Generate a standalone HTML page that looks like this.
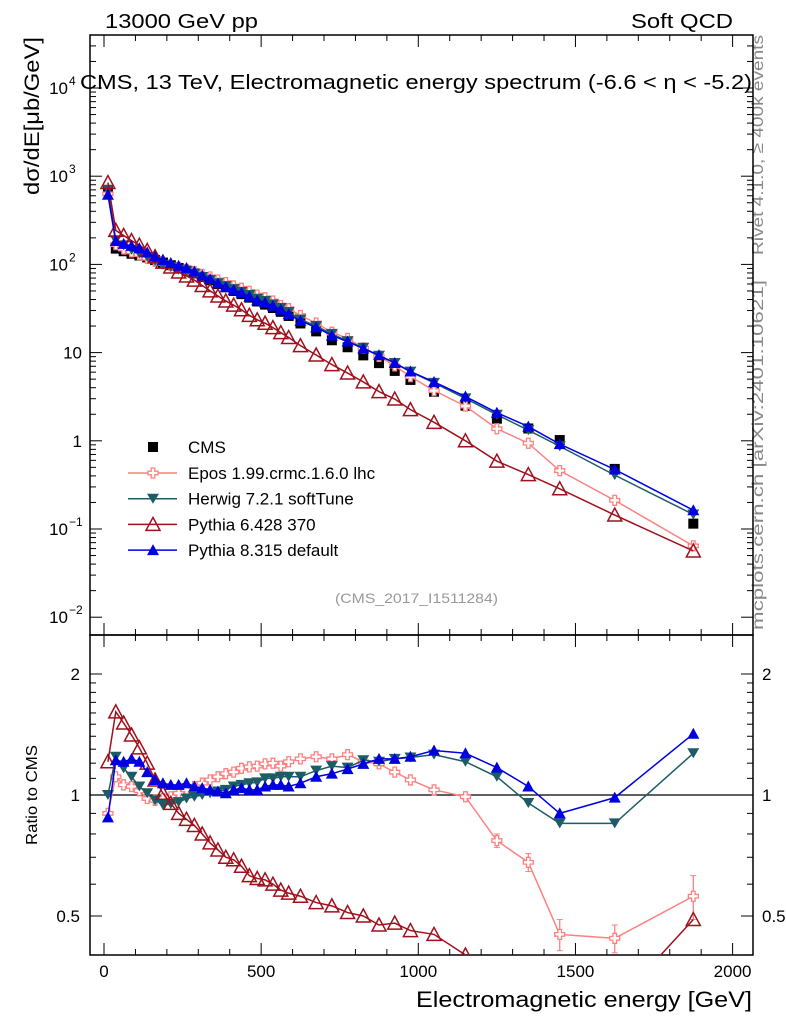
<!DOCTYPE html>
<html><head><meta charset="utf-8"><style>
html,body{margin:0;padding:0;background:#fff;}
svg{display:block;font-family:"Liberation Sans",sans-serif;}
</style></head><body>
<svg id="c" width="786" height="1024" viewBox="0 0 786 1024" xmlns="http://www.w3.org/2000/svg">
<text x="105" y="28" font-size="20" textLength="153" lengthAdjust="spacingAndGlyphs">13000 GeV pp</text>
<text x="631" y="28" font-size="20" textLength="102" lengthAdjust="spacingAndGlyphs">Soft QCD</text>
<text x="80" y="89" font-size="20" textLength="672" lengthAdjust="spacingAndGlyphs">CMS, 13 TeV, Electromagnetic energy spectrum (-6.6 &lt; η &lt; -5.2)</text>
<text transform="translate(39,195) rotate(-90)" font-size="21" textLength="158" lengthAdjust="spacingAndGlyphs">dσ/dE[μb/GeV]</text>
<text transform="translate(763,255) rotate(-90)" font-size="16" fill="#888" textLength="220" lengthAdjust="spacingAndGlyphs">Rivet 4.1.0, ≥ 400k events</text>
<text transform="translate(763,630) rotate(-90)" font-size="16" fill="#888" textLength="350" lengthAdjust="spacingAndGlyphs">mcplots.cern.ch [arXiv:2401.10621]</text>
<text x="335" y="603" font-size="14" fill="#999" textLength="163" lengthAdjust="spacingAndGlyphs">(CMS_2017_I1511284)</text>
<text transform="translate(37,845) rotate(-90)" font-size="16" textLength="100" lengthAdjust="spacingAndGlyphs">Ratio to CMS</text>
<text x="416" y="1007" font-size="22" textLength="336" lengthAdjust="spacingAndGlyphs">Electromagnetic energy [GeV]</text>
<g id="g"></g>
</svg>
<script>
const energies=[12.5,37.5,62.5,87.5,112.5,137.5,162.5,187.5,212.5,237.5,262.5,287.5,312.5,337.5,362.5,387.5,412.5,437.5,462.5,487.5,512.5,537.5,562.5,587.5,625,675,725,775,825,875,925,975,1050,1150,1250,1350,1450,1625,1875];
const cmsValues=[700,151,141,132,126,120,112,105,98,91,85,79,72,66,60,55,50,46,42,38,35,32,29,26,21.4,17.4,13.8,11.5,9.3,7.6,6.2,4.9,3.6,2.5,1.78,1.38,1.02,0.48,0.115];
const eposRatio=[0.90,1.11,1.06,1.05,1.025,0.98,0.97,0.98,0.99,1.01,1.03,1.05,1.07,1.09,1.11,1.13,1.14,1.165,1.175,1.18,1.195,1.2,1.18,1.21,1.23,1.245,1.23,1.26,1.21,1.195,1.14,1.09,1.03,0.99,0.77,0.68,0.45,0.44,0.56];
const eposErr=[0,0,0,0,0,0,0,0,0,0,0,0,0,0,0,0,0,0,0,0,0,0,0,0,0,0,0,0,0,0,0,0,0.01,0.015,0.03,0.035,0.04,0.035,0.07];
const herwigRatio=[1.0,1.245,1.165,1.11,1.05,1.01,0.97,0.945,0.95,0.96,0.98,0.99,1.0,1.01,1.02,1.03,1.05,1.06,1.07,1.075,1.1,1.1,1.11,1.11,1.11,1.15,1.18,1.17,1.22,1.21,1.23,1.24,1.26,1.21,1.11,0.955,0.85,0.85,1.27];
const py6Ratio=[1.21,1.61,1.51,1.41,1.31,1.20,1.09,1.01,0.953,0.90,0.87,0.84,0.80,0.76,0.73,0.70,0.69,0.665,0.63,0.62,0.615,0.60,0.58,0.57,0.56,0.54,0.53,0.51,0.50,0.475,0.48,0.46,0.45,0.40,0.33,0.30,0.28,0.30,0.49];
const py8Ratio=[0.88,1.22,1.21,1.23,1.21,1.14,1.09,1.07,1.06,1.06,1.07,1.05,1.04,1.03,1.02,1.01,1.03,1.04,1.03,1.03,1.05,1.06,1.06,1.05,1.07,1.11,1.13,1.16,1.195,1.23,1.23,1.245,1.29,1.27,1.17,1.05,0.90,0.985,1.42];
const xTicks=[0,500,1000,1500,2000];
const topTicks=[[1e4,"4"],[1e3,"3"],[1e2,"2"],[10,null],[1,null],[0.1,"−1"],[0.01,"−2"]];
const ratioTicks=[[2,"2"],[1,"1"],[0.5,"0.5"]];

const L=90,R=753,T=35,M=635,B=955;
const X=e=>104+e*0.3143;
const Y=v=>88+(4-Math.log10(v))*88.2;
const YR=r=>795-Math.log10(r)*402;
const g=document.getElementById('g');
const NS="http://www.w3.org/2000/svg";
function mk(t,a,p){const e=document.createElementNS(NS,t);for(const k in a)e.setAttribute(k,a[k]);(p||g).appendChild(e);return e;}

const defs=mk('defs',{});
const c1=mk('clipPath',{id:'ct'},defs);mk('rect',{x:L,y:T,width:R-L,height:M-T},c1);
const c2=mk('clipPath',{id:'cr'},defs);mk('rect',{x:L,y:M,width:R-L,height:B-M},c2);

let f=mk('rect',{x:L,y:T,width:R-L,height:M-T,fill:'none',stroke:'#000','stroke-width':1.5});


f=mk('rect',{x:L,y:M,width:R-L,height:B-M,fill:'none',stroke:'#000','stroke-width':1.5});


let ref=mk('line',{x1:L,x2:R,y1:YR(1),y2:YR(1),stroke:'#000','stroke-width':1.2});



xTicks.forEach(v=>{const x=X(v);
 [[M,T],[B,M]].forEach(([yb,yt])=>{mk('line',{x1:x,x2:x,y1:yb,y2:yb-12,stroke:'#000'});mk('line',{x1:x,x2:x,y1:yt,y2:yt+12,stroke:'#000'});});
 const t=mk('text',{x:x,y:977,'font-size':17,'text-anchor':'middle'});t.textContent=v;
 
 
});
for(let v=0;v<=2000;v+=100){if(v%500==0)continue;const x=X(v);
 [[M,T],[B,M]].forEach(([yb,yt])=>{mk('line',{x1:x,x2:x,y1:yb,y2:yb-6,stroke:'#000'});mk('line',{x1:x,x2:x,y1:yt,y2:yt+6,stroke:'#000'});});}

for(let d=-2;d<=4;d++){for(let m=1;m<10;m++){const v=m*Math.pow(10,d);const y=Y(v);if(y<T||y>M)continue;const len=m==1?12:6;
 mk('line',{x1:L,x2:L+len,y1:y,y2:y,stroke:'#000'});mk('line',{x1:R,x2:R-len,y1:y,y2:y,stroke:'#000'});}}
topTicks.forEach(([v,ex])=>{const y=Y(v);const t=mk('text',{x:ex?68:82,y:y+6,'font-size':17,'text-anchor':'end'});
 
 
 if(ex){t.textContent='10';const s=mk('text',{x:69,y:y-3,'font-size':12},g);s.textContent=ex;
 
 }
 else t.textContent=v;});
[0.4,0.5,0.6,0.7,0.8,0.9,1,2,1.1,1.2,1.3,1.4,1.5,1.6,1.7,1.8,1.9,2.5].forEach(v=>{const y=YR(v);if(y<M||y>B)return;const len=(v==1||v==2||v==0.5)?12:6;
 mk('line',{x1:L,x2:L+len,y1:y,y2:y,stroke:'#000'});mk('line',{x1:R,x2:R-len,y1:y,y2:y,stroke:'#000'});});
ratioTicks.forEach(([v,s])=>{const y=YR(v);
 let t=mk('text',{x:80,y:y+6,'font-size':17,'text-anchor':'end'});t.textContent=s;
 
 
 t=mk('text',{x:762,y:y+6,'font-size':17});t.textContent=s;
 
 });

function marker(kind,col,x,y,p){
 if(kind=='sq')return mk('rect',{x:x-5,y:y-5,width:10,height:10,fill:'#000'},p);
 if(kind=='cross')return mk('path',{d:`M${x-1.8},${y-5}h3.6v3.2h3.2v3.6h-3.2v3.2h-3.6v-3.2h-3.2v-3.6h3.2z`,fill:'#fff',stroke:col,'stroke-width':1.3},p);
 if(kind=='down')return mk('path',{d:`M${x-6},${y-5}h12l-6,10z`,fill:col},p);
 if(kind=='up')return mk('path',{d:`M${x-6},${y+5}h12l-6,-11z`,fill:col},p);
 if(kind=='open')return mk('path',{d:`M${x-7},${y+6}h14l-7,-13z`,fill:'none',stroke:col,'stroke-width':1.5},p);
}
const series=[
 {name:'epos',ratio:eposRatio,col:'#ff8080',m:'cross',label:'Epos 1.99.crmc.1.6.0 lhc'},
 {name:'herwig',ratio:herwigRatio,col:'#1c5c66',m:'down',label:'Herwig 7.2.1 softTune'},
 {name:'pythia6',ratio:py6Ratio,col:'#a0101c',m:'open',label:'Pythia 6.428 370'},
 {name:'pythia8',ratio:py8Ratio,col:'#0000e0',m:'up',label:'Pythia 8.315 default'}];

const topG=mk('g',{'clip-path':'url(#ct)'});
const ratG=mk('g',{'clip-path':'url(#cr)'});
cmsValues.forEach((v,i)=>{const m=marker('sq','#000',X(energies[i]),Y(v),topG);
 
 });
series.forEach(s=>{
 const tp=energies.map((e,i)=>[X(e),Y(cmsValues[i]*s.ratio[i])]);
 const rp=energies.map((e,i)=>[X(e),YR(s.ratio[i])]);
 let l=mk('polyline',{points:tp.map(p=>p.join(',')).join(' '),fill:'none',stroke:s.col,'stroke-width':1.5},topG);
 
 
 l=mk('polyline',{points:rp.map(p=>p.join(',')).join(' '),fill:'none',stroke:s.col,'stroke-width':1.5},ratG);
 
 
 if(s.name=='epos'){eposErr.forEach((er,i)=>{if(!er)return;const x=X(energies[i]);
  mk('line',{x1:x,x2:x,y1:YR(s.ratio[i]+er),y2:YR(s.ratio[i]-er),stroke:s.col,'stroke-width':1.3},ratG);
  mk('line',{x1:x-3,x2:x+3,y1:YR(s.ratio[i]+er),y2:YR(s.ratio[i]+er),stroke:s.col},ratG);
  mk('line',{x1:x-3,x2:x+3,y1:YR(s.ratio[i]-er),y2:YR(s.ratio[i]-er),stroke:s.col},ratG);});}
 tp.forEach(p=>{const m=marker(s.m,s.col,p[0],p[1],topG);
  
  });
 rp.forEach(p=>{const m=marker(s.m,s.col,p[0],p[1],ratG);
  
  });
});
const lg=mk('g',{});


marker('sq','#000',153,447,lg);
const legendLens=[136,128,108,167];
let t=mk('text',{x:188,y:453,'font-size':17},lg);t.textContent='CMS';


series.forEach((s,i)=>{const y=473+i*25.7;
 mk('line',{x1:128,x2:177,y1:y,y2:y,stroke:s.col,'stroke-width':1.5},lg);
 marker(s.m,s.col,153,y,lg);
 const tt=mk('text',{x:188,y:y+6,'font-size':17},lg);tt.textContent=s.label;
 
 });
</script>
</body></html>
